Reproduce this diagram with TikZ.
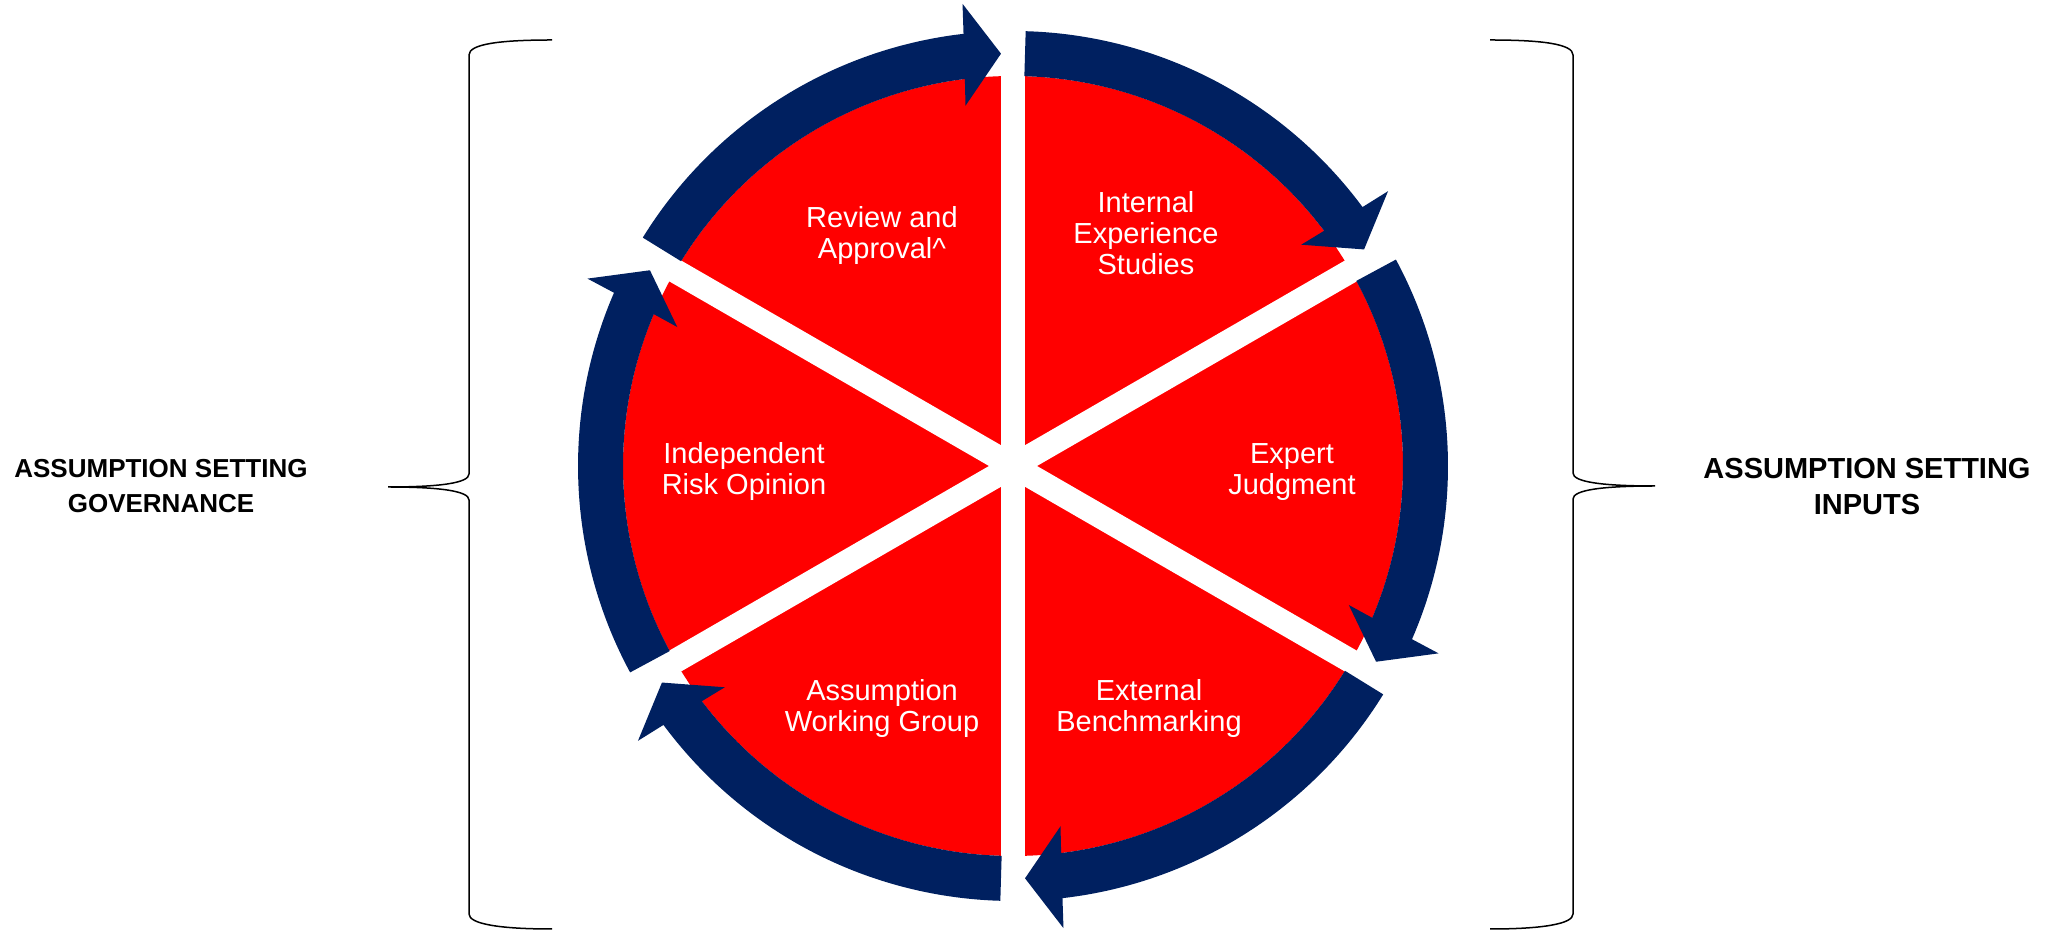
\documentclass[tikz,border=0pt]{standalone}
\usepackage{fontspec}
\setmainfont{Liberation Sans}
\usetikzlibrary{calc}
\definecolor{ringblue}{RGB}{0,32,96}
\definecolor{sectorred}{RGB}{255,0,0}
\newcommand\ringarrow[1]{%
  \pgfmathsetmacro\aS{#1-1.67}%
  \pgfmathsetmacro\aT{#1-60+1.67}%
  \pgfmathsetmacro\aO{\aT+atan(37/435)}%
  \pgfmathsetmacro\aI{\aT+atan(37/390)}%
  \pgfmathsetmacro\aP{\aT+90}%
  \fill[ringblue] (\aS:435) arc[start angle=\aS, end angle=\aO, radius=435]
    -- ($(\aT:463.5)+(\aP:37)$) -- (\aT:412.5) -- ($(\aT:361.5)+(\aP:37)$)
    -- (\aI:390)
    arc[start angle=\aI, end angle=\aS, radius=390] -- cycle;%
}
\tikzset{
  seclabel/.style={text=white, align=center, font=\fontsize{29}{31}\selectfont},
  sidelabel/.style={text=black, align=center, font=\bfseries\fontsize{26}{35}\selectfont},
  sidelabelbig/.style={text=black, align=center, font=\bfseries\fontsize{29}{36}\selectfont},
  bracepath/.style={draw=black, line width=1.5}
}
\begin{document}
\begin{tikzpicture}[x=1pt,y=1pt]
\useasboundingbox (0,0) rectangle (2047,931);
\coordinate (C) at (1013,465);
\begin{scope}[shift={(C)}]
  \fill[sectorred] (0,0) circle[radius=390];
  \foreach \a in {30,90,150}{
    \draw[white, line width=24] (\a:400) -- (\a+180:400);
  }
  \foreach \s in {90,30,-30,-90,-150,150}{
    \ringarrow{\s}
  }
\end{scope}
% sector labels
\node[seclabel] (review) at (882,695) {Review and\\Approval\^{}};
\node[seclabel] (internal) at (1146,698) {Internal\\Experience\\Studies};
\node[seclabel] (expert) at (1292,459) {Expert\\Judgment};
\node[seclabel] (external) at (1149,222) {External\\Benchmarking};
\node[seclabel] (working) at (882,222) {Assumption\\Working Group};
\node[seclabel] (risk) at (744,459) {Independent\\Risk Opinion};
% side labels
\node[sidelabel] (gov) at (161,445) {ASSUMPTION SETTING\\GOVERNANCE};
\node[sidelabelbig] (inp) at (1867,444) {ASSUMPTION SETTING\\INPUTS};
% left brace
\draw[bracepath] (552,891) .. controls (500,891) and (469,887) .. (469,876)
  -- (469,457) .. controls (469,448) and (440,444) .. (388,444)
  .. controls (440,444) and (469,440) .. (469,431)
  -- (469,17) .. controls (469,7) and (500,2) .. (552,2);
% right brace
\draw[bracepath] (1490,891) .. controls (1542,891) and (1573,887) .. (1573,876)
  -- (1573,458) .. controls (1573,449) and (1602,445) .. (1655,445)
  .. controls (1602,445) and (1573,441) .. (1573,432)
  -- (1573,17) .. controls (1573,7) and (1542,2) .. (1490,2);
\end{tikzpicture}
\end{document}
